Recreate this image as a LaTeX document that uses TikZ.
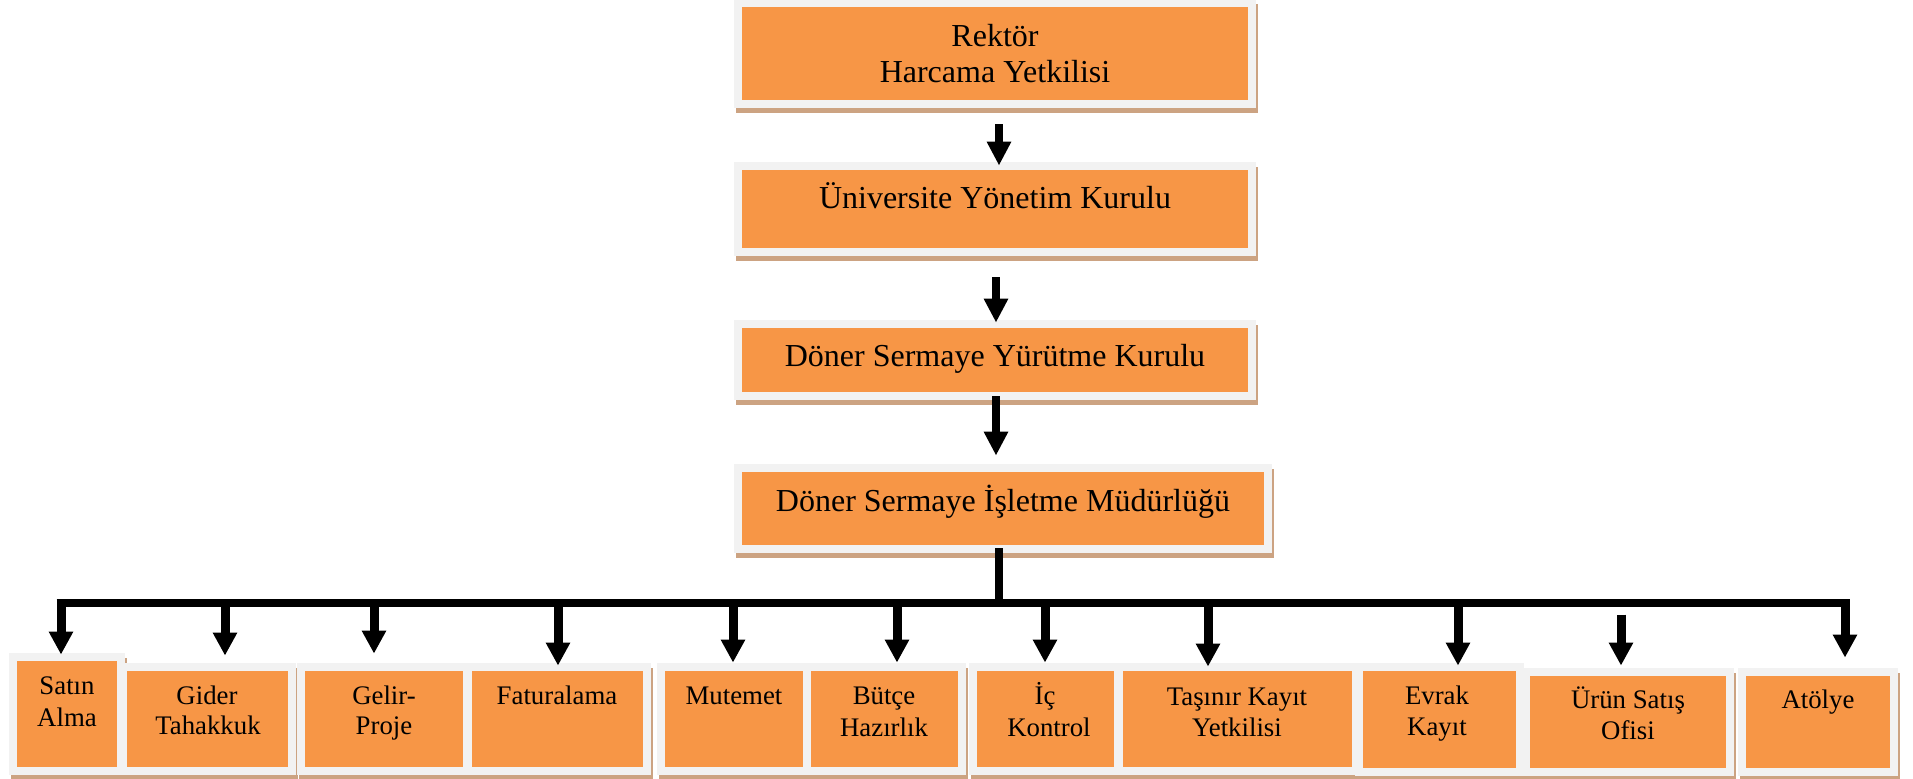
\documentclass[tikz,border=0pt]{standalone}
\usepackage{fontspec}
\setmainfont{Liberation Serif}
\usetikzlibrary{arrows.meta,fit,shadows,calc}
\definecolor{orgfill}{HTML}{F79646}
\definecolor{frmgray}{HTML}{F2F2F2}
\definecolor{shtan}{RGB}{204,163,130}
\newcommand\obox[5]{%
  \node[frm, fit={(#2,#3) (#4,#5)}] (f#1) {};
  \node[org, fit={(#2,#3) (#4,#5)}] (#1) {};}
\begin{document}
\begin{tikzpicture}[x=0.5pt, y=-0.5pt,
  frm/.style={inner sep=4pt, fill=frmgray, draw=none,
    drop shadow={shadow xshift=1pt, shadow yshift=-2.5pt, fill=shtan, opacity=1}},
  org/.style={inner sep=0pt, fill=orgfill, draw=none},
  toptxt/.style={anchor=base, inner sep=0pt, font=\fontsize{16pt}{19pt}\selectfont},
  bottxt/.style={anchor=base, inner sep=0pt, font=\fontsize{13.4pt}{16pt}\selectfont},
  arrT/.style={line width=4pt, -{Triangle[width=11.5pt,length=12pt]}},
  arrB/.style={line width=4.5pt, -{Triangle[width=11.5pt,length=11.5pt]}},
  busln/.style={line width=4pt}]
\useasboundingbox (0,0) rectangle (1913,779);
% top chain
\obox{B1}{742}{7}{1248}{100}
\obox{B2}{742}{170}{1248}{248}
\obox{B3}{742}{328}{1248}{392}
\obox{B4}{742}{472}{1264}{545}
\node[toptxt] (t1a) at (995,47) {Rektör};
\node[toptxt] (t1b) at (995,83) {Harcama Yetkilisi};
\node[toptxt] (t2) at (995,209) {Üniversite Yönetim Kurulu};
\node[toptxt] (t3) at (995,367) {Döner Sermaye Yürütme Kurulu};
\node[toptxt] (t4) at (1003,512) {Döner Sermaye İşletme Müdürlüğü};
% bottom row
\obox{S1}{17}{661}{117}{767}
\obox{S2}{127}{671}{288}{767}
\obox{S3}{305}{671}{463}{767}
\obox{S4}{472}{671}{643}{767}
\obox{S5}{665}{671}{803}{767}
\obox{S6}{811}{671}{958}{767}
\obox{S7}{977}{671}{1114}{767}
\obox{S8}{1123}{671}{1352}{767}
\obox{S9}{1363}{671}{1516}{768}
\obox{S10}{1530}{676}{1726}{768}
\obox{S11}{1746}{676}{1890}{768}
\node[bottxt] (u1a) at (67,695) {Satın};
\node[bottxt] (u1b) at (67,727) {Alma};
\node[bottxt] (u2a) at (207,705) {Gider};
\node[bottxt] (u2b) at (208,735) {Tahakkuk};
\node[bottxt] (u3a) at (384,705) {Gelir-};
\node[bottxt] (u3b) at (384,735) {Proje};
\node[bottxt] (u4) at (557,705) {Faturalama};
\node[bottxt] (u5) at (734,705) {Mutemet};
\node[bottxt] (u6a) at (884,705) {Bütçe};
\node[bottxt] (u6b) at (884,737) {Hazırlık};
\node[bottxt] (u7a) at (1045,705) {İç};
\node[bottxt] (u7b) at (1049,737) {Kontrol};
\node[bottxt] (u8a) at (1237,706) {Taşınır Kayıt};
\node[bottxt] (u8b) at (1237,737) {Yetkilisi};
\node[bottxt] (u9a) at (1437,705) {Evrak};
\node[bottxt] (u9b) at (1437,736) {Kayıt};
\node[bottxt] (u10a) at (1628,709) {Ürün Satış};
\node[bottxt] (u10b) at (1628,740) {Ofisi};
\node[bottxt] (u11) at (1818,709) {Atölye};
% vertical arrows of the chain
\draw[arrT] ($(fB1.south)+(4,16)$) -- ($(fB2.north)+(4,4)$);
\draw[arrT] ($(fB2.south)+(1,21)$) -- ($(fB3.north)+(1,3)$);
\draw[arrT] ($(fB3.south)+(1,-4)$) -- ($(fB4.north)+(-7,-8)$);
% bus
\coordinate (busL) at (56.5,603);
\coordinate (busR) at (1849.5,603);
\draw[busln] ($(fB4.south)+(-4,-5)$) -- ($(fB4.south |- busL)+(-4,0)$);
\draw[busln] (busL) -- (busR);
% bottom arrows
\draw[arrB] ($(fS1.north |- busL)+(-6,0)$) -- ($(fS1.north)+(-6,2)$);
\draw[arrB] ($(fS2.north |- busL)+(17.5,0)$) -- ($(fS2.north)+(17.5,-7)$);
\draw[arrB] ($(fS3.north |- busL)+(-10,0)$) -- ($(fS3.north)+(-10,-9)$);
\draw[arrB] ($(fS4.north |- busL)+(0.5,0)$) -- ($(fS4.north)+(0.5,3)$);
\draw[arrB] ($(fS5.north |- busL)+(-1,0)$) -- ($(fS5.north)+(-1,0)$);
\draw[arrB] ($(fS6.north |- busL)+(12.5,0)$) -- ($(fS6.north)+(12.5,0)$);
\draw[arrB] ($(fS7.north |- busL)+(-0.5,0)$) -- ($(fS7.north)+(-0.5,0)$);
\draw[arrB] ($(fS8.north |- busL)+(-29.5,0)$) -- ($(fS8.north)+(-29.5,4)$);
\draw[arrB] ($(fS9.north |- busL)+(18.5,0)$) -- ($(fS9.north)+(18.5,3)$);
\draw[arrB] ($(fS10.north)+(-7,-53)$) -- ($(fS10.north)+(-7,-2)$);
\draw[arrB] ($(fS11.north |- busL)+(27,0)$) -- ($(fS11.north)+(27,-10)$);
\end{tikzpicture}
\end{document}
